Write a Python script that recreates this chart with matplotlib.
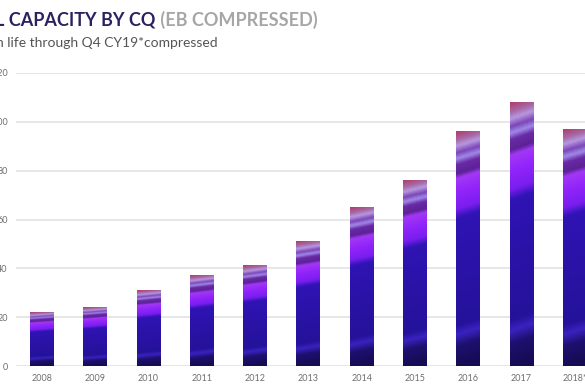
import numpy as np
import matplotlib.pyplot as plt
from matplotlib.colors import LinearSegmentedColormap

years = ['2008', '2009', '2010', '2011', '2012', '2013', '2014', '2015', '2016', '2017', '2018*']
capacity = [22, 24, 31, 37, 41, 51, 65, 76, 96, 108, 97]
yticks = [0, 20, 40, 60, 80, 100, 120]

title_main = 'L CAPACITY BY CQ'
title_grey = '(EB COMPRESSED)'
subtitle = 'n life through Q4 CY19*compressed'

plt.rcParams['font.family'] = ['Lato', 'DejaVu Sans']

# vertical "picture fill" of the bars, 0 = bottom, 1 = top
bar_cmap = LinearSegmentedColormap.from_list('barfill', [
    (0.00, '#160c55'), (0.08, '#1d1070'), (0.13, '#3a22c0'), (0.17, '#24129a'),
    (0.40, '#2a12a6'), (0.63, '#3014b4'), (0.67, '#7a1ef0'), (0.74, '#9224fa'),
    (0.80, '#a238f5'), (0.82, '#5c2296'), (0.86, '#6a2aa6'), (0.885, '#a08ae8'),
    (0.91, '#7c46b8'), (0.94, '#b898e0'), (0.965, '#a66aa8'), (1.00, '#b0406e')])

fig = plt.figure(figsize=(5.85, 3.9), dpi=100)
ax = fig.add_axes([16 / 585, 24 / 390, 1 - 16 / 585, 293 / 390])

x = np.arange(len(years))
w = 0.45
bars = ax.bar(x, capacity, width=w, color='none', zorder=2)

yy = np.linspace(0, 1, 200)[:, None]
xx = np.linspace(0, 1, 20)[None, :]
grad = np.clip(yy - 0.03 * xx, 0, 1)
for b in bars:
    ax.imshow(grad, cmap=bar_cmap, vmin=0, vmax=1, origin='lower', aspect='auto',
              extent=(b.get_x(), b.get_x() + b.get_width(), 0, b.get_height()),
              zorder=2, interpolation='bilinear')

ax.set_xlim(-0.488, 10.19)
ax.set_ylim(0, 120)
ax.set_yticks(yticks)
ax.set_xticks(x)
ax.set_xticklabels(years)
ax.yaxis.grid(True, color='#e3e3e3', linewidth=1.2, zorder=0)
ax.set_axisbelow(True)
for s in ax.spines.values():
    s.set_visible(False)
ax.tick_params(axis='both', length=0, labelsize=6.5, labelcolor='#6e6e6e')
ax.tick_params(axis='y', pad=6)
ax.tick_params(axis='x', pad=6)

t = fig.text(-0.008, 1 - 26 / 390, title_main, fontsize=13, fontweight='bold',
             color='#2b2160', va='baseline')
fig.canvas.draw()
ax.annotate(' ' + title_grey, xy=(1, 0), xycoords=t, va='bottom',
            fontsize=13, fontweight='bold', color='#a6a6a6', annotation_clip=False)
fig.text(-0.006, 1 - 47 / 390, subtitle, fontsize=10, color='#555555', va='baseline')

fig.savefig('out.png', dpi=100)
